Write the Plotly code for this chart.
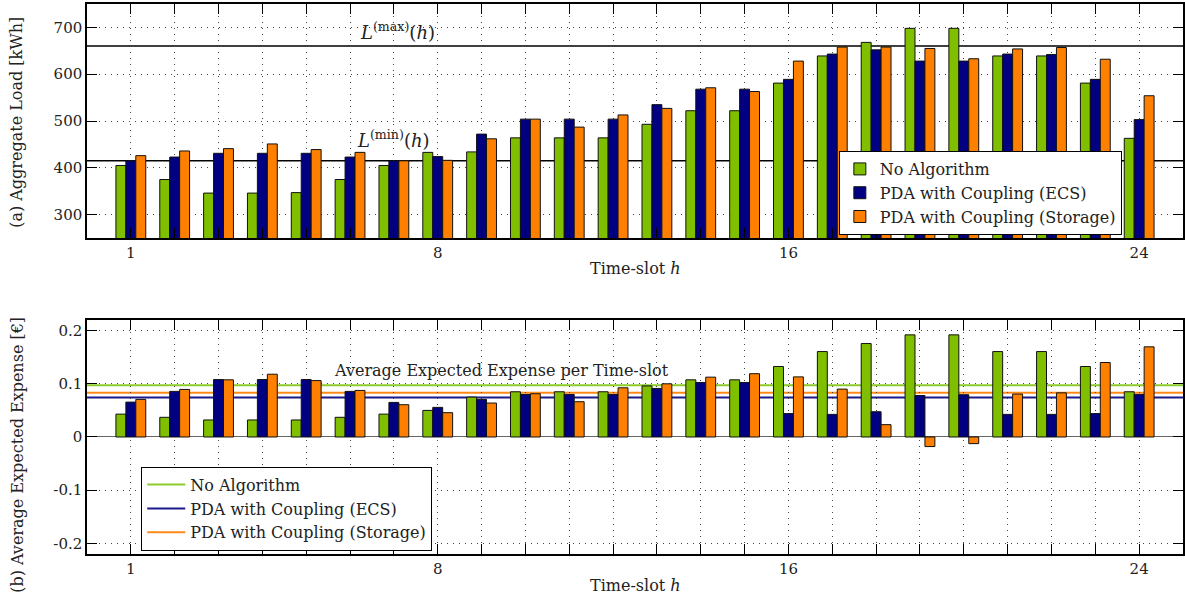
import plotly.graph_objects as go

slots = list(range(1, 25))
x_tick_vals = [1, 8, 16, 24]
x_tick_text = ["1", "8", "16", "24"]

series_names = ["No Algorithm", "PDA with Coupling (ECS)", "PDA with Coupling (Storage)"]

load_none = [405, 375, 346, 346, 347, 375, 405, 433, 434, 464, 464, 464, 493, 522, 522, 581,
             639, 668, 698, 698, 639, 639, 581, 463]
load_ecs = [415, 423, 431, 431, 431, 423, 415, 424, 472, 504, 504, 504, 535, 568, 568, 589,
            643, 652, 628, 628, 643, 642, 589, 503]
load_sto = [426, 436, 441, 451, 439, 433, 415, 416, 462, 504, 487, 513, 527, 571, 563, 628,
            658, 658, 655, 633, 654, 657, 632, 554]

exp_none = [0.043, 0.037, 0.032, 0.032, 0.032, 0.037, 0.043, 0.050, 0.075, 0.085, 0.085, 0.085,
            0.096, 0.1075, 0.1075, 0.1325, 0.1606, 0.1757, 0.192, 0.192, 0.1606, 0.1606, 0.1325, 0.085]
exp_ecs = [0.0656, 0.0857, 0.108, 0.108, 0.108, 0.0857, 0.065, 0.0557, 0.0707, 0.080, 0.080, 0.080,
           0.0913, 0.1025, 0.1025, 0.044, 0.0425, 0.0475, 0.078, 0.0795, 0.0425, 0.0425, 0.044, 0.080]
exp_sto = [0.0707, 0.0894, 0.1075, 0.118, 0.106, 0.0875, 0.0607, 0.0457, 0.0638, 0.0813, 0.0663, 0.0925,
           0.100, 0.1125, 0.119, 0.113, 0.090, 0.0232, -0.018, -0.0125, 0.0807, 0.083, 0.140, 0.1695]

avg_expense = [0.0975, 0.0744, 0.0832]
L_MAX = 660
L_MIN = 415

load_ticks = [300, 400, 500, 600, 700]
exp_ticks = [-0.2, -0.1, 0, 0.1, 0.2]
exp_tick_text = ["-0.2", "-0.1", "0", "0.1", "0.2"]

bar_colors = ["#80BF00", "#000080", "#FF8000"]
avg_colors = ["#8CCB2A", "#1A1A8C", "#FF8A1A"]

FONT = "DejaVu Serif"
TXT = "#222"

fig = go.Figure()

for name, vals, col in zip(series_names, [load_none, load_ecs, load_sto], bar_colors):
    fig.add_trace(go.Bar(x=slots, y=vals, name=name, marker=dict(color=col, line=dict(color="#111", width=1)),
                         xaxis="x", yaxis="y", legend="legend", showlegend=True))

for name, vals, col in zip(series_names, [exp_none, exp_ecs, exp_sto], bar_colors):
    fig.add_trace(go.Bar(x=slots, y=vals, name=name, marker=dict(color=col, line=dict(color="#111", width=1)),
                         xaxis="x2", yaxis="y2", showlegend=False))

# legend entries for average lines (lines themselves drawn as shapes below bars)
for name, col in zip(series_names, avg_colors):
    fig.add_trace(go.Scatter(x=[None], y=[None], mode="lines", name=name, line=dict(color=col, width=2),
                             xaxis="x2", yaxis="y2", legend="legend2", showlegend=True))

shapes = []
for val in [L_MAX, L_MIN]:
    shapes.append(dict(type="line", xref="x domain", yref="y", x0=0, x1=1, y0=val, y1=val,
                       line=dict(color="black", width=1.5), layer="below"))
for val, col in zip(avg_expense, avg_colors):
    shapes.append(dict(type="line", xref="x2 domain", yref="y2", x0=0, x1=1, y0=val, y1=val,
                       line=dict(color=col, width=2), layer="below"))

grid = dict(showgrid=True, gridcolor="#444", gridwidth=1, griddash="1px,5px")
axis_common = dict(showline=True, linecolor="black", linewidth=1.5, mirror="ticks", ticks="inside",
                   ticklen=10, tickcolor="black", tickwidth=1,
                   tickfont=dict(family=FONT, size=15, color=TXT), zeroline=False, **grid)
x_minor = dict(tick0=0, dtick=1, ticks="inside", ticklen=10, tickcolor="black", tickwidth=1,
               showgrid=True, gridcolor="#444", gridwidth=1, griddash="1px,5px")

def ann(text, x, y, xref, yref, size, angle=0):
    return dict(text=text, x=x, y=y, xref=xref, yref=yref, showarrow=False, textangle=angle,
                xanchor="center", yanchor="middle", font=dict(family=FONT, size=size, color=TXT))

annotations = [
    ann("<i>L</i><sup>(max)</sup>(<i>h</i>)", 7.08, 692, "x", "y", 18),
    ann("<i>L</i><sup>(min)</sup>(<i>h</i>)", 7.0, 462, "x", "y", 18),
    ann("Average Expected Expense per Time-slot", 9.45, 0.125, "x2", "y2", 16),
    ann("(a) Aggregate Load [kWh]", -0.064, 0.7855, "paper", "paper", 16, -90),
    ann("(b) Average Expected Expense [€]", -0.064, 0.18, "paper", "paper", 16, -90),
    ann("Time-slot <i>h</i>", 0.5, 0.52, "paper", "paper", 16),
    ann("Time-slot <i>h</i>", 0.5, -0.058, "paper", "paper", 16),
]

fig.update_layout(
    width=1185, height=599,
    margin=dict(l=87, r=0, t=4, b=45),
    paper_bgcolor="white", plot_bgcolor="white",
    barmode="group", bargap=0.32, bargroupgap=0,
    font=dict(family=FONT, size=15, color=TXT),
    xaxis=dict(domain=[0, 1], anchor="y", range=[0, 25], tickvals=x_tick_vals, ticktext=x_tick_text,
               minor=x_minor, **axis_common),
    yaxis=dict(domain=[0.5745, 1], anchor="x", range=[250, 750], tickvals=load_ticks, **axis_common),
    xaxis2=dict(domain=[0, 1], anchor="y2", range=[0, 25], tickvals=x_tick_vals, ticktext=x_tick_text,
                minor=x_minor, **axis_common),
    yaxis2=dict(domain=[0, 0.4255], anchor="x2", range=[-0.22, 0.22], tickvals=exp_ticks,
                ticktext=exp_tick_text, **axis_common),
    legend=dict(x=0.686, y=0.7327, xanchor="left", yanchor="top", bgcolor="white", bordercolor="black",
                borderwidth=1, font=dict(family=FONT, size=16, color=TXT), tracegroupgap=0),
    legend2=dict(x=0.0495, y=0.1587, xanchor="left", yanchor="top", bgcolor="white", bordercolor="black",
                 borderwidth=1, font=dict(family=FONT, size=16, color=TXT), itemwidth=38),
    shapes=shapes,
    annotations=annotations,
    showlegend=True,
)

# zero baseline for bottom chart
fig.update_layout(yaxis2=dict(zeroline=True, zerolinecolor="#666", zerolinewidth=1))

fig.write_html("out.html")
